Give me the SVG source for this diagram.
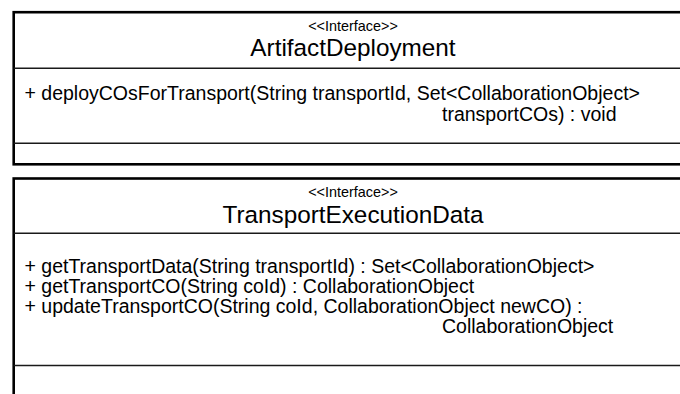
<svg xmlns="http://www.w3.org/2000/svg" width="680" height="394" viewBox="0 0 680 394">
  <style>
    .frame { fill: #ffffff; stroke: #000000; stroke-width: 2.6; }
    .sep { stroke: #1a1a1a; stroke-width: 1.4; fill: none; }
    text { font-family: "Liberation Sans", Arial, Helvetica, sans-serif; fill: #000000; }
    .stereo { font-size: 14.4px; text-anchor: middle; }
    .title { font-size: 24.3px; text-anchor: middle; }
    .op { font-size: 19.5px; }
  </style>
  <rect width="680" height="394" fill="#ffffff"/>

  <!-- interface ArtifactDeployment -->
  <g id="ArtifactDeployment">
    <rect class="frame" x="13.7" y="12.2" width="690" height="152.1"/>
    <line class="sep" x1="13.7" y1="68.3" x2="700" y2="68.3"/>
    <line class="sep" x1="13.7" y1="143.3" x2="700" y2="143.3"/>
    <text class="stereo" x="353" y="30.5">&lt;&lt;Interface&gt;&gt;</text>
    <text class="title" x="353" y="56">ArtifactDeployment</text>
    <text class="op" x="24.5" y="100">+ deployCOsForTransport(String transportId, Set&lt;CollaborationObject&gt;</text>
    <text class="op" x="442" y="121">transportCOs) : void</text>
  </g>

  <!-- interface TransportExecutionData -->
  <g id="TransportExecutionData">
    <rect class="frame" x="13.7" y="178.5" width="690" height="240"/>
    <line class="sep" x1="13.7" y1="233.3" x2="700" y2="233.3"/>
    <line class="sep" x1="13.7" y1="365.5" x2="700" y2="365.5"/>
    <text class="stereo" x="353" y="196.5">&lt;&lt;Interface&gt;&gt;</text>
    <text class="title" x="353" y="222.5">TransportExecutionData</text>
    <text class="op" x="24.5" y="273">+ getTransportData(String transportId) : Set&lt;CollaborationObject&gt;</text>
    <text class="op" x="24.5" y="293">+ getTransportCO(String coId) : CollaborationObject</text>
    <text class="op" x="24.5" y="313">+ updateTransportCO(String coId, CollaborationObject newCO) :</text>
    <text class="op" x="442" y="333">CollaborationObject</text>
  </g>

  <g id="connectors"/>
</svg>
